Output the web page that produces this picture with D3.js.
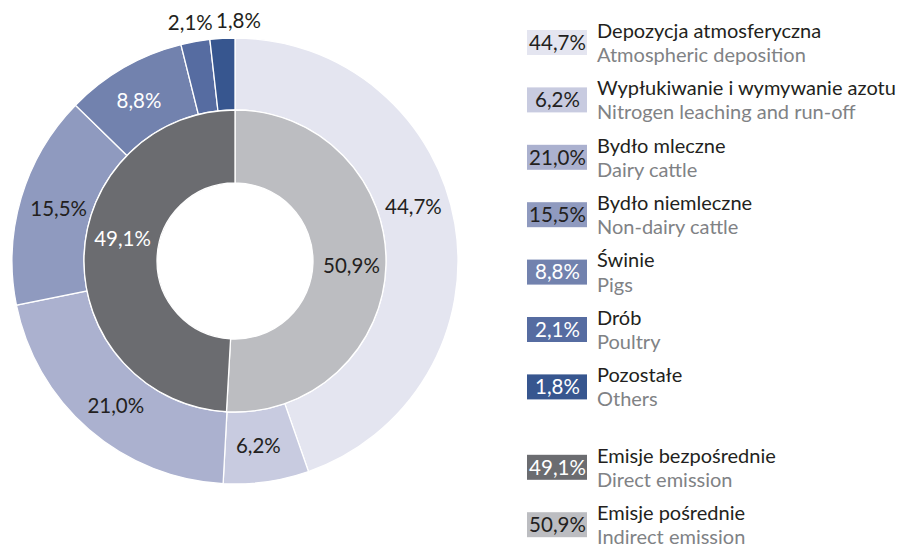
<!DOCTYPE html>
<html>
<head>
<meta charset="utf-8">
<script src="https://cdn.jsdelivr.net/npm/d3@7"></script>
<style>
  html, body { margin: 0; padding: 0; background: #ffffff; }
  svg { display: block; font-family: Lato, "Open Sans", sans-serif; }
</style>
</head>
<body>
<svg id="chart" width="902" height="549"></svg>
<script>
// Sources of nitrous oxide emissions (outer ring) and their grouping (inner ring)
const sourceNamesPl = ["Depozycja atmosferyczna", "Wypłukiwanie i wymywanie azotu", "Bydło mleczne",
  "Bydło niemleczne", "Świnie", "Drób", "Pozostałe"];
const sourceNamesEn = ["Atmospheric deposition", "Nitrogen leaching and run-off", "Dairy cattle",
  "Non-dairy cattle", "Pigs", "Poultry", "Others"];
const sourceValues = [44.7, 6.2, 21.0, 15.5, 8.8, 2.1, 1.8];

const groupNamesPl = ["Emisje pośrednie", "Emisje bezpośrednie"];
const groupNamesEn = ["Indirect emission", "Direct emission"];
const groupValues = [50.9, 49.1];

// Legend order lists the direct group first
const legendGroupOrder = [1, 0];

const sourceColors = ["#e4e5f0", "#c8cbe0", "#abb1cf", "#8f9abf", "#7282ae", "#566ca1", "#37568f"];
const sourceTextColors = ["#231f20", "#231f20", "#231f20", "#231f20", "#ffffff", "#ffffff", "#ffffff"];
const groupColors = ["#bcbdc1", "#6b6c70"];
const groupTextColors = ["#231f20", "#ffffff"];

const fmt = v => v.toFixed(1).replace(".", ",") + "%";

const svg = d3.select("#chart");
const cx = 235, cy = 261;
const rOuter = 223, rMid = 151, rHole = 78;
const labelSize = 20.5;

const g = svg.append("g").attr("transform", `translate(${cx},${cy})`);

const pie = d3.pie().sort(null).value(d => d);
const outerArc = d3.arc().innerRadius(rMid).outerRadius(rOuter);
const innerArc = d3.arc().innerRadius(rHole).outerRadius(rMid);

const outerData = pie(sourceValues);
const innerData = pie(groupValues);

g.selectAll("path.outer").data(outerData).join("path")
  .attr("class", "outer")
  .attr("d", outerArc)
  .attr("fill", (d, i) => sourceColors[i])
  .attr("stroke", "#ffffff").attr("stroke-width", 1.3);

g.selectAll("path.inner").data(innerData).join("path")
  .attr("class", "inner")
  .attr("d", innerArc)
  .attr("fill", (d, i) => groupColors[i])
  .attr("stroke", "#ffffff").attr("stroke-width", 1.3);

// Label placement: arc centroid, small slices outside the ring, plus a few nudges
const outsideArc = d3.arc().innerRadius(240).outerRadius(240);
const outerNudge = [[-6, -23], [-3, -1], [3, 3], [3, 1], [-3, 2], [-2, -2], [17, -1]];
const outerOutside = [false, false, false, false, false, true, true];
const outerLabelColors = ["#231f20", "#231f20", "#231f20", "#231f20", "#ffffff", "#231f20", "#231f20"];
const innerNudge = [[2, 1], [2, -19]];

g.selectAll("text.outer-label").data(outerData).join("text")
  .attr("class", "outer-label")
  .attr("transform", (d, i) => {
    const c = outerOutside[i] ? outsideArc.centroid(d) : outerArc.centroid(d);
    return `translate(${c[0] + outerNudge[i][0]},${c[1] + outerNudge[i][1]})`;
  })
  .attr("text-anchor", "middle")
  .attr("dy", "0.36em")
  .attr("font-size", labelSize)
  .attr("fill", (d, i) => outerLabelColors[i])
  .text(d => fmt(d.data));

g.selectAll("text.inner-label").data(innerData).join("text")
  .attr("class", "inner-label")
  .attr("transform", (d, i) => {
    const c = innerArc.centroid(d);
    return `translate(${c[0] + innerNudge[i][0]},${c[1] + innerNudge[i][1]})`;
  })
  .attr("text-anchor", "middle")
  .attr("dy", "0.36em")
  .attr("font-size", labelSize)
  .attr("fill", (d, i) => groupTextColors[i])
  .text(d => fmt(d.data));

// Legend
const legendItems = sourceValues.map((v, i) => ({
  value: v, pl: sourceNamesPl[i], en: sourceNamesEn[i],
  color: sourceColors[i], textColor: sourceTextColors[i], gap: 0
})).concat(legendGroupOrder.map((k, j) => ({
  value: groupValues[k], pl: groupNamesPl[k], en: groupNamesEn[k],
  color: groupColors[k], textColor: groupTextColors[k], gap: 1
})));

const legendX = 527, swW = 60, swH = 25, rowStep = 57.4, groupGap = 23, firstRow = 42.5;
const rowY = legendItems.map((d, i) => firstRow + i * rowStep + d.gap * groupGap);

const leg = svg.append("g");
const rows = leg.selectAll("g.row").data(legendItems).join("g")
  .attr("class", "row")
  .attr("transform", (d, i) => `translate(${legendX},${rowY[i]})`);

rows.append("rect")
  .attr("x", 0).attr("y", -swH / 2)
  .attr("width", swW).attr("height", swH)
  .attr("fill", d => d.color);

rows.append("text")
  .attr("x", swW / 2 + 0.5).attr("y", 0).attr("dy", "0.36em")
  .attr("text-anchor", "middle")
  .attr("font-size", labelSize)
  .attr("fill", d => d.textColor)
  .text(d => fmt(d.value));

rows.append("text")
  .attr("x", 70).attr("y", -12).attr("dy", "0.36em")
  .attr("font-size", 20)
  .attr("fill", "#231f20")
  .text(d => d.pl);

rows.append("text")
  .attr("x", 70).attr("y", 12.2).attr("dy", "0.36em")
  .attr("font-size", 20)
  .attr("fill", "#808285")
  .text(d => d.en);
</script>
</body>
</html>
